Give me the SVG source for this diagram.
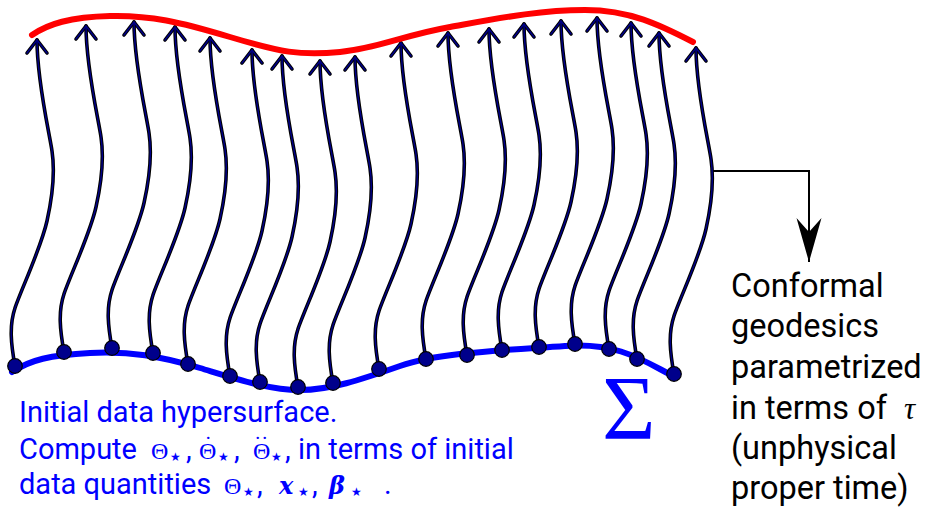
<svg xmlns="http://www.w3.org/2000/svg" xmlns:xlink="http://www.w3.org/1999/xlink" width="926" height="510" viewBox="0 0 926 510">
<style>
.gout{fill:none;stroke:#000;stroke-width:3.6;stroke-linecap:round;stroke-linejoin:round}
.gin{fill:none;stroke:#00008b;stroke-width:1.4;stroke-linecap:round;stroke-linejoin:round}
.dot{fill:#00008b;stroke:#000;stroke-width:1.2}
.lbl{font-family:Roboto,"Liberation Sans",sans-serif;font-size:32.5px;fill:#000}
.blue{font-family:Roboto,"Liberation Sans",sans-serif;font-size:29px;fill:#0000ff}
.th{font-family:"Liberation Serif","DejaVu Serif",serif;font-size:24px}
.acc{font-family:"Liberation Serif","DejaVu Serif",serif;font-size:22px}
.bi{font-family:"DejaVu Serif","Liberation Serif",serif;font-size:24px;font-style:italic;font-weight:bold}
.st{font-family:"DejaVu Sans",sans-serif;font-size:12px}
</style>
<defs>
<g id="geo">
<path class="gout" d="M0,0 C-4,-22 -6,-40 0,-58 S26,-118 32,-145 S40,-195 37,-215 S22,-285 22,-326"/>
<path class="gout" d="M12,-313 L22,-326 L32,-313"/>
<path class="gin" d="M0,0 C-4,-22 -6,-40 0,-58 S26,-118 32,-145 S40,-195 37,-215 S22,-285 22,-326"/>
<path class="gin" d="M12,-313 L22,-326 L32,-313"/>
<circle class="dot" r="7.3"/>
</g>
<marker id="stealth" markerUnits="userSpaceOnUse" markerWidth="50" markerHeight="30" viewBox="-46 -15 50 30" refX="0" refY="0" orient="auto">
<path d="M0,0 L-44,-12.5 L-30,0 L-44,12.5 Z" fill="#000"/>
</marker>
</defs>

<g id="sigma-surface">
<path d="M12,372 C30,360 50,355 90,353 S160,356 200,368 S270,390 300,390 S360,380 400,366 S510,350 565,346 S645,362 675,377" fill="none" stroke="#0000ff" stroke-width="6" stroke-linecap="round"/>
</g>

<g id="geodesics">
<g id="geodesic-1"><use xlink:href="#geo" x="15" y="366"/></g>
<g id="geodesic-2"><use xlink:href="#geo" x="64" y="352"/></g>
<g id="geodesic-3"><use xlink:href="#geo" x="112" y="348"/></g>
<g id="geodesic-4"><use xlink:href="#geo" x="153" y="353"/></g>
<g id="geodesic-5"><use xlink:href="#geo" x="188" y="364"/></g>
<g id="geodesic-6"><use xlink:href="#geo" x="230" y="376"/></g>
<g id="geodesic-7"><use xlink:href="#geo" x="260" y="382"/></g>
<g id="geodesic-8"><use xlink:href="#geo" x="298" y="387"/></g>
<g id="geodesic-9"><use xlink:href="#geo" x="333" y="383"/></g>
<g id="geodesic-10"><use xlink:href="#geo" x="379" y="369"/></g>
<g id="geodesic-11"><use xlink:href="#geo" x="426" y="359"/></g>
<g id="geodesic-12"><use xlink:href="#geo" x="467" y="355"/></g>
<g id="geodesic-13"><use xlink:href="#geo" x="502" y="350"/></g>
<g id="geodesic-14"><use xlink:href="#geo" x="539" y="347"/></g>
<g id="geodesic-15"><use xlink:href="#geo" x="575" y="344"/></g>
<g id="geodesic-16"><use xlink:href="#geo" x="609" y="349"/></g>
<g id="geodesic-17"><use xlink:href="#geo" x="637" y="359"/></g>
<g id="geodesic-18"><use xlink:href="#geo" x="674" y="374"/></g>
</g>

<g id="final-surface">
<path d="M32,35 C48,24 70,17 110,16 S180,22 230,37 S300,56 340,52 S400,36 450,27 S540,10 585,10 S660,25 693,42" fill="none" stroke="#ff0000" stroke-width="6" stroke-linecap="round"/>
</g>

<g id="connectors">
<path d="M713,171 H809 V262" fill="none" stroke="#000" stroke-width="2" marker-end="url(#stealth)"/>
</g>

<g id="sigma-label">
<text x="602" y="439" font-family="'Liberation Serif','DejaVu Serif',serif" font-size="92" fill="#0000ff">Σ</text>
</g>

<g id="geodesic-label">
<text class="lbl">
<tspan x="731" y="297">Conformal</tspan>
<tspan x="731" y="337">geodesics</tspan>
<tspan x="731" y="378">parametrized</tspan>
<tspan x="731" y="419">in terms of </tspan><tspan x="904" y="419" style="font-family:'Liberation Serif','DejaVu Serif',serif;font-style:italic;font-size:31px">τ</tspan>
<tspan x="731" y="459">(unphysical</tspan>
<tspan x="731" y="499">proper time)</tspan>
</text>
</g>

<g id="initial-data-label">
<text class="blue" x="19" y="422">Initial data hypersurface.</text>
<text class="blue" y="459"><tspan x="19">Compute</tspan><tspan class="th" x="151">Θ</tspan><tspan class="st" x="170" y="461">★</tspan><tspan x="186" y="459">,</tspan><tspan class="acc" x="204.5" y="451">˙</tspan><tspan class="th" x="199" y="459">Θ</tspan><tspan class="st" x="218" y="461">★</tspan><tspan x="234" y="459">,</tspan><tspan class="acc" x="254" y="451">˙</tspan><tspan class="acc" x="261" y="451">˙</tspan><tspan class="th" x="253" y="459">Θ</tspan><tspan class="st" x="271" y="461">★</tspan><tspan x="285" y="459">, in terms of initial</tspan></text>
<text class="blue" y="494"><tspan x="19">data quantities</tspan><tspan class="th" x="224">Θ</tspan><tspan class="st" x="243" y="496">★</tspan><tspan x="257" y="494">,</tspan><tspan class="bi" x="279">x</tspan><tspan class="st" x="298" y="496">★</tspan><tspan x="312" y="494">,</tspan><tspan class="bi" x="329">β</tspan><tspan class="st" x="351" y="496">★</tspan><tspan x="384" y="494">.</tspan></text>
</g>
</svg>
